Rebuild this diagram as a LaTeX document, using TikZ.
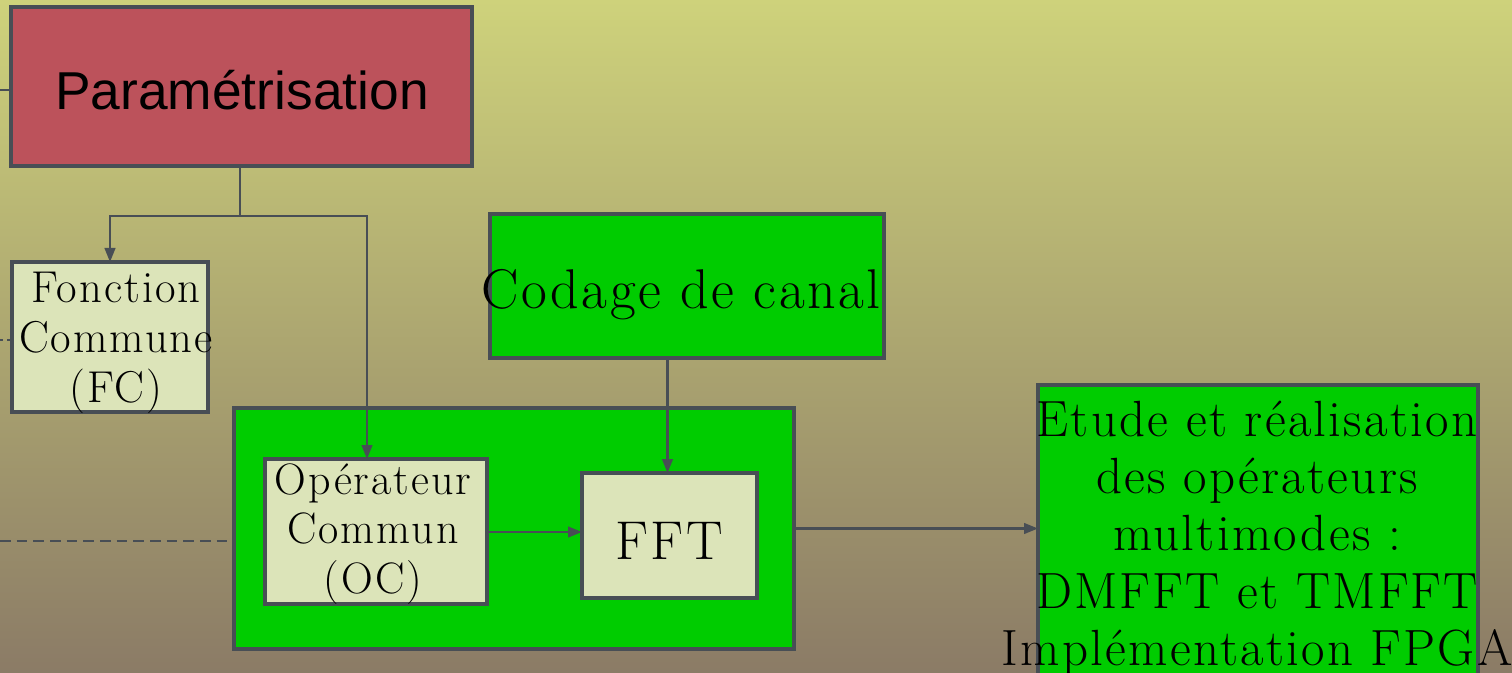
\documentclass[tikz,border=0pt]{standalone}
\usepackage{fontspec}
\newfontfamily\arialf{Liberation Sans}
\newfontfamily\spacedrm{Latin Modern Roman}[LetterSpace=4.5]
\usetikzlibrary{arrows.meta,calc}
\definecolor{bgtop}{RGB}{206,210,123}
\definecolor{bgbot}{RGB}{139,123,102}
\definecolor{edge}{RGB}{72,78,85}
\definecolor{paramred}{RGB}{188,82,91}
\definecolor{palebox}{RGB}{220,228,185}
\definecolor{brightgreen}{RGB}{0,204,0}
\tikzset{
  box/.style={draw=edge, line width=2.4pt, anchor=north west, inner sep=0pt, outer sep=0pt},
  label/.style={inner sep=0pt, align=center, text=black},
  conn/.style={draw=edge, line width=1.7pt},
  arr/.style={conn, -{Triangle[length=10.5pt,width=8pt]}},
  dashconn/.style={conn, dash pattern=on 8pt off 4.5pt},
  dotconn/.style={draw=edge, line width=1pt, dash pattern=on 2.5pt off 3pt},
}
\begin{document}
\begin{tikzpicture}[x=0.75pt, y=-0.75pt]
  \clip (0,0) rectangle (1512,673);
  \useasboundingbox (0,0) rectangle (1512,673);
  \shade[top color=bgtop, bottom color=bgbot] (0,0) rectangle (1512,673);

  % boxes
  \node[box, fill=paramred, minimum width={461*0.75pt}, minimum height={159*0.75pt}] (param) at (11,7) {};
  \node[box, fill=palebox, minimum width={196*0.75pt}, minimum height={150*0.75pt}] (fc) at (12,262) {};
  \node[box, fill=brightgreen, minimum width={394*0.75pt}, minimum height={144*0.75pt}] (codage) at (490,214) {};
  \node[box, fill=brightgreen, minimum width={560*0.75pt}, minimum height={241*0.75pt}] (big) at (234,408) {};
  \node[box, fill=palebox, minimum width={222*0.75pt}, minimum height={145*0.75pt}] (oc) at (265,459) {};
  \node[box, fill=palebox, minimum width={175*0.75pt}, minimum height={125*0.75pt}] (fft) at (582,473) {};
  \node[box, fill=brightgreen, minimum width={440*0.75pt}, minimum height={310*0.75pt}] (etude) at (1038,385) {};

  % texts
  \node[label, font=\arialf\fontsize{40}{48}\selectfont] (tparam) at (242,90) {Paramétrisation};
  \node[label, font=\spacedrm\fontsize{33.5}{37.5}\selectfont] (tfc) at (116,343) {Fonction\\Commune\\(FC)};
  \node[label, font=\spacedrm\fontsize{42}{50}\selectfont] (tcodage) at (681,295) {Codage de canal};
  \node[label, font=\spacedrm\fontsize{33}{37}\selectfont] (toc) at (373,534) {Opérateur\\Commun\\(OC)};
  \node[label, font=\spacedrm\fontsize{41}{48}\selectfont] (tfft) at (669,541) {FFT};
  \node[label, font=\spacedrm\fontsize{38.2}{43}\selectfont] (tetude) at (1257,538)
    {Etude et réalisation\\des opérateurs\\multimodes :\\DMFFT et TMFFT\\Implémentation FPGA};

  % connectors
  \coordinate (split) at (240,216);
  \draw[conn] (param.south -| split) -- (split);
  \draw[arr] (split) -| (fc.north);
  \draw[arr] (split) -| ($(oc.north)+(-9,0)$);
  \draw[arr] ($(fft.north |- codage.south)+(-2,0)$) -- ($(fft.north)+(-2,0)$);
  \draw[arr] (oc.east |- 0,532) -- (fft.west |- 0,532);
  \draw[arr] (big.east) -- (big.east -| etude.west);

  \coordinate (inparam) at (0,90);
  \coordinate (infc) at (0,340);
  \coordinate (inbig) at (0,541);
  \draw[conn] (inparam) -- (inparam -| param.west);
  \draw[dotconn] (infc) -- (infc -| fc.west);
  \draw[dashconn] (inbig) -- (inbig -| big.west);
\end{tikzpicture}
\end{document}
